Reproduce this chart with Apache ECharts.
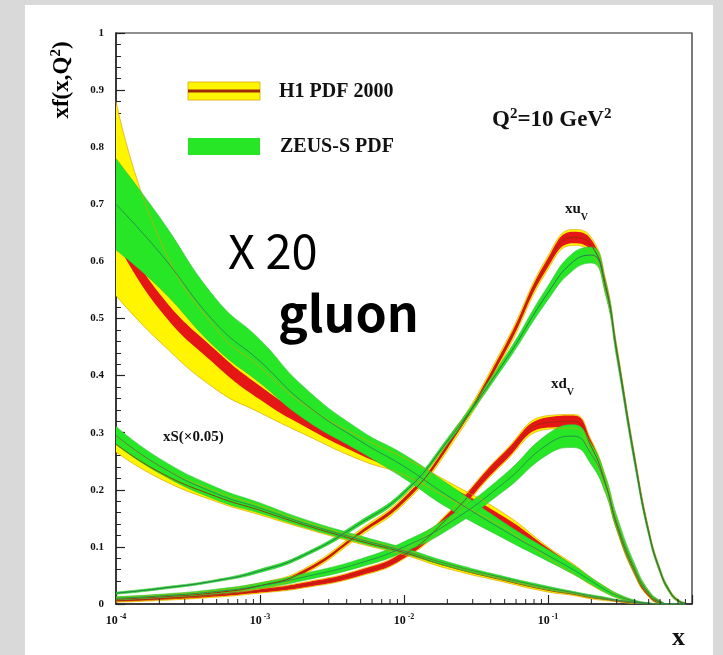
<!DOCTYPE html>
<html>
<head>
<meta charset="utf-8">
<script src="https://cdn.jsdelivr.net/npm/echarts@6.0.0/dist/echarts.min.js"></script>
<style>
html, body { margin: 0; padding: 0; background: #d9d9d9; overflow: hidden; }
#panel { position: absolute; left: 25px; top: 5px; width: 688px; height: 650px; background: #fff; }
#chart { position: absolute; left: 0; top: 0; width: 723px; height: 655px; }
</style>
</head>
<body>
<div id="panel"></div>
<div id="chart"></div>
<script>
// x points shared by all curves
var xGrid = [1e-4, 2e-4, 5e-4, 1e-3, 2e-3, 5e-3, 1e-2, 2e-2, 5e-2, 0.1, 0.15, 0.2, 0.25, 0.3, 0.4, 0.5, 0.6, 0.7, 0.8, 0.9];

// gluon (scaled x 1/20)
var gluonH1    = [0.65, 0.53, 0.43, 0.37, 0.322, 0.27, 0.238, 0.2, 0.145, 0.092, 0.062, 0.04, 0.025, 0.014, 0.004, 0.001, 0, 0, 0, 0];
var gluonH1Exp = [0.013, 0.014, 0.013, 0.012, 0.01, 0.009, 0.008, 0.008, 0.007, 0.006, 0.005, 0.004, 0.003, 0.002, 0.001, 0, 0, 0, 0, 0];
var gluonH1Lo  = [0.54, 0.46, 0.375, 0.335, 0.298, 0.252, 0.226, 0.186, 0.133, 0.08, 0.053, 0.033, 0.02, 0.011, 0.003, 0, 0, 0, 0, 0];
var gluonH1Hi  = [0.88, 0.64, 0.48, 0.415, 0.35, 0.292, 0.256, 0.215, 0.158, 0.1, 0.07, 0.046, 0.03, 0.017, 0.005, 0.001, 0, 0, 0, 0];
var gluonZeus    = [0.70, 0.616, 0.49, 0.425, 0.353, 0.285, 0.241, 0.19, 0.128, 0.085, 0.06, 0.04, 0.025, 0.015, 0.005, 0.001, 0, 0, 0, 0];
var gluonZeusErr = [0.08, 0.062, 0.043, 0.038, 0.028, 0.019, 0.021, 0.021, 0.014, 0.01, 0.008, 0.006, 0.005, 0.004, 0.002, 0.001, 0, 0, 0, 0];

// sea quarks xS (x 0.05)
var xsH1      = [0.28, 0.231, 0.188, 0.164, 0.139, 0.11, 0.09, 0.066, 0.041, 0.024, 0.017, 0.011, 0.008, 0.005, 0.002, 0.001, 0, 0, 0, 0];
var xsH1Err   = [0.014, 0.011, 0.009, 0.008, 0.006, 0.005, 0.004, 0.004, 0.003, 0.003, 0.002, 0.002, 0.002, 0.001, 0.001, 0, 0, 0, 0, 0];
var xsZeus    = [0.295, 0.242, 0.193, 0.168, 0.142, 0.113, 0.093, 0.07, 0.045, 0.028, 0.02, 0.014, 0.01, 0.007, 0.003, 0.001, 0, 0, 0, 0];
var xsZeusErr = [0.016, 0.013, 0.011, 0.009, 0.007, 0.006, 0.005, 0.004, 0.003, 0.003, 0.002, 0.002, 0.002, 0.001, 0.001, 0.001, 0, 0, 0, 0];

// valence u
var xuH1      = [0.008, 0.012, 0.02, 0.032, 0.056, 0.125, 0.182, 0.276, 0.445, 0.598, 0.642, 0.628, 0.56, 0.445, 0.255, 0.128, 0.058, 0.022, 0.006, 0.001];
var xuH1Exp   = [0.002, 0.002, 0.002, 0.002, 0.003, 0.003, 0.004, 0.004, 0.006, 0.008, 0.01, 0.01, 0.009, 0.007, 0.005, 0.004, 0.003, 0.002, 0.001, 0];
var xuH1Tot   = [0.004, 0.004, 0.004, 0.005, 0.005, 0.006, 0.007, 0.008, 0.01, 0.012, 0.014, 0.014, 0.012, 0.009, 0.007, 0.005, 0.004, 0.003, 0.002, 0.001];
var xuZeus    = [0.019, 0.027, 0.041, 0.058, 0.085, 0.142, 0.195, 0.285, 0.425, 0.545, 0.6, 0.611, 0.555, 0.44, 0.25, 0.125, 0.058, 0.022, 0.006, 0.001];
var xuZeusErr = [0.002, 0.002, 0.002, 0.003, 0.003, 0.004, 0.004, 0.005, 0.007, 0.012, 0.015, 0.014, 0.012, 0.01, 0.007, 0.005, 0.004, 0.003, 0.002, 0.001];

// valence d
var xdH1      = [0.006, 0.009, 0.016, 0.023, 0.033, 0.055, 0.086, 0.15, 0.258, 0.318, 0.32, 0.275, 0.212, 0.138, 0.057, 0.017, 0.003, 0, 0, 0];
var xdH1Exp   = [0.002, 0.002, 0.003, 0.003, 0.004, 0.005, 0.006, 0.007, 0.008, 0.009, 0.01, 0.01, 0.009, 0.008, 0.006, 0.004, 0.002, 0, 0, 0];
var xdH1Tot   = [0.003, 0.003, 0.004, 0.004, 0.005, 0.006, 0.007, 0.009, 0.01, 0.012, 0.012, 0.012, 0.011, 0.009, 0.007, 0.005, 0.002, 0, 0, 0];
var xdZeus    = [0.01, 0.014, 0.022, 0.032, 0.047, 0.072, 0.1, 0.14, 0.213, 0.28, 0.294, 0.262, 0.21, 0.143, 0.062, 0.02, 0.004, 0, 0, 0];
var xdZeusErr = [0.003, 0.003, 0.004, 0.005, 0.006, 0.007, 0.009, 0.011, 0.014, 0.018, 0.02, 0.018, 0.015, 0.012, 0.008, 0.004, 0.002, 0, 0, 0];

var yTicks = [0, 0.1, 0.2, 0.3, 0.4, 0.5, 0.6, 0.7, 0.8, 0.9, 1];

// log minor tick positions 2..9 per decade
var xMinorTicks = [];
for (var e = -4; e < 0; e++) {
  for (var m = 2; m <= 9; m++) xMinorTicks.push(m * Math.pow(10, e));
}

var YELLOW = '#fff500', YEDGE = '#d9a600';
var RED = '#e41616', BROWN = '#9c2a0a';
var GREEN = '#26e626', GEDGE = '#3bbf3b', ZLINE = '#2b7a55';
var SERIF = '"Liberation Serif", "Times New Roman", serif';
var SM = 0.5;

function clamp0(v) { return v < 0 ? 0 : v; }

// band from two edge arrays, drawn as a stacked area.
// points are [y, x] so that the y dimension is the stacked one
function band(id, lo, hi, fill, edge, edgeW) {
  var common = { type: 'line', stack: id, stackStrategy: 'all', symbol: 'none', smooth: SM, silent: true,
    encode: { x: 1, y: 0 }, lineStyle: { color: edge, width: edgeW } };
  var a = Object.assign({}, common, {
    data: xGrid.map(function (x, i) { return [clamp0(lo[i]), x]; }) });
  var b = Object.assign({}, common, {
    data: xGrid.map(function (x, i) { return [clamp0(hi[i]) - clamp0(lo[i]), x]; }),
    areaStyle: { color: fill, opacity: 1 } });
  return [a, b];
}
function sym(mid, err) {
  return [mid.map(function (v, i) { return v - err[i]; }), mid.map(function (v, i) { return v + err[i]; })];
}
function centre(mid, color, w) {
  return { type: 'line', symbol: 'none', smooth: SM, silent: true,
    data: xGrid.map(function (x, i) { return [x, mid[i]]; }),
    lineStyle: { color: color, width: w } };
}

var series = [];
// H1 total (yellow)
series = series.concat(band('gH1tot', gluonH1Lo, gluonH1Hi, YELLOW, YEDGE, 0.7));
var s1 = sym(xsH1, xsH1Err);  series = series.concat(band('sH1', s1[0], s1[1], YELLOW, YEDGE, 0.7));
var u1 = sym(xuH1, xuH1Tot);  series = series.concat(band('uH1tot', u1[0], u1[1], YELLOW, YEDGE, 0.6));
var d1 = sym(xdH1, xdH1Tot);  series = series.concat(band('dH1tot', d1[0], d1[1], YELLOW, YEDGE, 0.6));
// H1 experimental (red)
var g2 = sym(gluonH1, gluonH1Exp); series = series.concat(band('gH1exp', g2[0], g2[1], RED, RED, 0));
var u2 = sym(xuH1, xuH1Exp);  series = series.concat(band('uH1exp', u2[0], u2[1], RED, RED, 0));
var d2 = sym(xdH1, xdH1Exp);  series = series.concat(band('dH1exp', d2[0], d2[1], RED, RED, 0));
series.push(centre(xsH1, BROWN, 0.9), centre(xuH1, BROWN, 1), centre(xdH1, BROWN, 0.8));
// ZEUS (green)
var g3 = sym(gluonZeus, gluonZeusErr); series = series.concat(band('gZ', g3[0], g3[1], GREEN, GEDGE, 0.6));
var s3 = sym(xsZeus, xsZeusErr); series = series.concat(band('sZ', s3[0], s3[1], GREEN, GEDGE, 0.6));
var u3 = sym(xuZeus, xuZeusErr); series = series.concat(band('uZ', u3[0], u3[1], GREEN, GEDGE, 0.6));
var d3 = sym(xdZeus, xdZeusErr); series = series.concat(band('dZ', d3[0], d3[1], GREEN, GEDGE, 0.6));
series.push(centre(gluonZeus, ZLINE, 0.8), centre(xsZeus, ZLINE, 0.8), centre(xuZeus, ZLINE, 1), centre(xdZeus, ZLINE, 0.8));

// minor ticks on the log axis
series.push({
  type: 'custom', silent: true, z: 10, clip: false,
  data: xMinorTicks.map(function (v) { return [v, 0]; }),
  renderItem: function (params, api) {
    var p = api.coord([api.value(0), 0]);
    return { type: 'line', shape: { x1: p[0], y1: p[1], x2: p[0], y2: p[1] - 5 },
      style: { stroke: '#222', lineWidth: 1 } };
  }
});

function txt(x, y, text, size, rich, extra) {
  var o = { type: 'text', x: x, y: y, z: 100,
    style: { text: text, font: 'bold ' + size + 'px ' + SERIF, fill: '#111',
      verticalAlign: 'middle', textVerticalAlign: 'middle', rich: rich || {} } };
  if (extra) for (var k in extra) o[k] = extra[k];
  return o;
}

var supRich = function (size) {
  return {
    b: { fontSize: size, fontWeight: 'bold', fontFamily: SERIF, lineHeight: size + 2, verticalAlign: 'bottom', color: '#111' },
    s: { fontSize: Math.round(size * 0.65), fontWeight: 'bold', fontFamily: SERIF, lineHeight: size + 2, verticalAlign: 'top', color: '#111' }
  };
};
var subRich = function (size) {
  return {
    b: { fontSize: size, fontWeight: 'bold', fontFamily: SERIF, lineHeight: size + 5, verticalAlign: 'top', color: '#111' },
    u: { fontSize: Math.round(size * 0.65), fontWeight: 'bold', fontFamily: SERIF, lineHeight: size + 5, verticalAlign: 'bottom', color: '#111' }
  };
};

var chart = echarts.init(document.getElementById('chart'));
var option = {
  animation: false,
  grid: { left: 116, right: 31, top: 33, bottom: 51, show: true, borderColor: '#222', borderWidth: 1.2, backgroundColor: 'transparent' },
  xAxis: {
    type: 'log', logBase: 10, min: 1e-4, max: 1,
    axisLine: { lineStyle: { color: '#222', width: 1.5 } },
    axisTick: { inside: true, length: 9, lineStyle: { color: '#222', width: 1.2 } },
    splitLine: { show: false },
    axisLabel: {
      margin: 9,
      formatter: function (v) {
        var ex = Math.round(Math.log10(v));
        if (ex >= 0) return '';
        return '{b|10}{s| ' + ex + '}';
      },
      rich: supRich(12)
    }
  },
  yAxis: {
    type: 'value', min: 0, max: 1, interval: 0.1,
    axisLine: { show: true, lineStyle: { color: '#222', width: 1.5 } },
    axisTick: { inside: true, length: 9, lineStyle: { color: '#222', width: 1.2 } },
    minorTick: { show: true, splitNumber: 5, length: 5, lineStyle: { color: '#222', width: 1 } },
    splitLine: { show: false },
    axisLabel: {
      margin: 12, color: '#111', fontFamily: SERIF, fontWeight: 'bold', fontSize: 11,
      formatter: function (v) {
        var t = yTicks.indexOf(Math.round(v * 10) / 10);
        if (t === 0) return '0';
        if (t === 10) return '1';
        return v.toFixed(1);
      }
    }
  },
  graphic: [
    // legend swatches
    { type: 'rect', z: 100, shape: { x: 188, y: 82, width: 72, height: 18 }, style: { fill: YELLOW, stroke: YEDGE, lineWidth: 0.8 } },
    { type: 'line', z: 101, shape: { x1: 188, y1: 91, x2: 260, y2: 91 }, style: { stroke: BROWN, lineWidth: 3 } },
    { type: 'rect', z: 100, shape: { x: 188, y: 138, width: 72, height: 17 }, style: { fill: GREEN } },
    txt(279, 92, 'H1 PDF 2000', 20),
    txt(280, 147, 'ZEUS-S PDF', 20),
    txt(492, 119, '{b|Q}{s|2}{b|=10 GeV}{s|2}', 23, supRich(23)),
    txt(565, 212, '{b|xu}{u|V}', 15, subRich(15)),
    txt(551, 387, '{b|xd}{u|V}', 15, subRich(15)),
    txt(163, 437, 'xS(\u00d70.05)', 15),
    txt(672, 638, 'x', 26),
    { type: 'text', x: 61, y: 80, z: 100, rotation: Math.PI / 2,
      style: { text: '{b|xf(x,Q}{s|2}{b|)}', rich: supRich(23), align: 'center', textAlign: 'center',
        verticalAlign: 'middle', textVerticalAlign: 'middle' } },
    { type: 'text', x: 228, y: 251, z: 100,
      style: { text: 'X 20', font: 'normal 47px "Noto Sans CJK JP"', fill: '#000', verticalAlign: 'middle', textVerticalAlign: 'middle' } },
    { type: 'text', x: 278, y: 313, z: 100,
      style: { text: 'gluon', font: 'bold 50px "Noto Sans CJK JP"', fill: '#000', verticalAlign: 'middle', textVerticalAlign: 'middle' } }
  ],
  series: series
};
chart.setOption(option);
</script>
</body>
</html>
